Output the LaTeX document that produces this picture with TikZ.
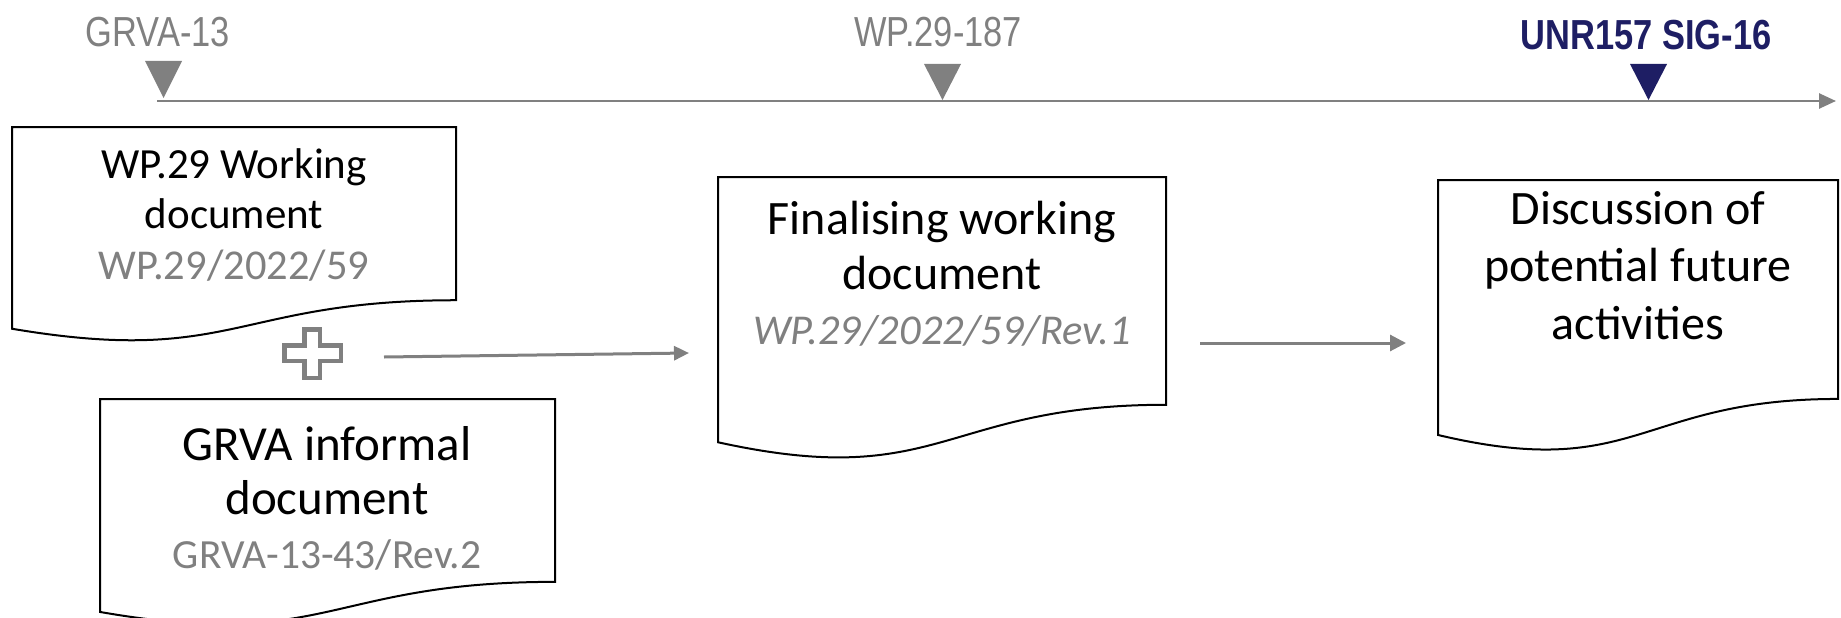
\documentclass[tikz,border=0pt]{standalone}
\usepackage{fontspec}
\setmainfont{Carlito}
\newfontfamily\narrowfont[FakeStretch=0.82]{Liberation Sans}
\usetikzlibrary{arrows.meta,calc}
\definecolor{tlgray}{RGB}{128,128,128}
\definecolor{navy}{RGB}{30,30,100}
\tikzset{
  docline/.style={draw=black, line width=2pt, line join=miter},
  grayline/.style={draw=tlgray, line width=2.6pt},
  toplabel/.style={anchor=base, inner sep=0pt, text=tlgray, font=\narrowfont\fontsize{42}{48}\selectfont},
  boxtext/.style={anchor=base, inner sep=0pt, align=center},
  marker/.style={fill=tlgray},
}
\newcommand\docshape[5]{%
  \node[rectangle, inner sep=0pt, outer sep=0pt, minimum width=#4pt, minimum height=#5pt, anchor=north west] (#1) at (#2,#3) {};
  \draw[docline] (#1.north west) -- (#1.north east)
    -- ($(#1.north east)!0.802!(#1.south east)$)
    .. controls ($(#1.north)!0.802!(#1.south)$) and ($(#1.north)!1.1075!(#1.south)$) ..
    ($(#1.north west)!0.934!(#1.south west)$) -- cycle;
}
\newcommand\graysub[2]{\textcolor{tlgray}{\fontsize{#1}{#1}\selectfont #2}}
\begin{document}
\begin{tikzpicture}[x=1pt,y=-1pt]
\useasboundingbox (0,0) rectangle (1841,618);

% timeline
\coordinate (tl0) at (157,101);
\coordinate (tl1) at (1836,101);
\draw[grayline, -{Triangle[length=17pt,width=15pt]}] (tl0) -- (tl1);

% milestone labels
\node[toplabel] (m1) at (158,47) {GRVA-13};
\node[toplabel] (m2) at (938,47) {WP.29-187};
\node[toplabel, text=navy, font=\narrowfont\bfseries\fontsize{42}{48}\selectfont] (m3) at (1646,50) {UNR157 SIG-16};

% markers
\fill[marker] (145,61) -- (182,61) -- (163.5,98) -- cycle;
\fill[marker] (924,64) -- (961,64) -- (942.5,100) -- cycle;
\fill[navy] (1630,64) -- (1667,64) -- (1648.5,100) -- cycle;

% document shapes
\docshape{b1}{12}{127}{444}{216}
\docshape{b2}{718}{177}{448}{284}
\docshape{b3}{1438}{180}{400}{273}
\docshape{b4}{100}{399}{455}{228}

% texts
\node[boxtext] (t1) at (234,178) {\fontsize{43}{50.5}\selectfont\begin{tabular}[t]{@{}c@{}}WP.29 Working\\document\\\graysub{42.5}{WP.29/2022/59}\end{tabular}};
\node[boxtext] (t2) at (942,234) {\fontsize{48}{55}\selectfont\begin{tabular}[t]{@{}c@{}}Finalising working\\document\\\graysub{42.5}{\itshape WP.29/2022/59/Rev.1}\end{tabular}};
\node[boxtext] (t3) at (1638,224) {\fontsize{48}{57.5}\selectfont\begin{tabular}[t]{@{}c@{}}Discussion of\\potential future\\activities\end{tabular}};
\node[boxtext] (t4) at (327,460) {\fontsize{49}{54}\selectfont\begin{tabular}[t]{@{}c@{}}GRVA informal\\document\\\graysub{41.5}{GRVA-13-43/Rev.2}\end{tabular}};

% plus sign
\draw[draw=tlgray, line width=4.5pt, line join=miter] (304.25,329.25) -- (319.75,329.25) -- (319.75,345.25) -- (340.75,345.25) -- (340.75,360.75) -- (319.75,360.75) -- (319.75,377.75) -- (304.25,377.75) -- (304.25,360.75) -- (284.25,360.75) -- (284.25,345.25) -- (304.25,345.25) -- cycle;

% connectors
\coordinate (a1s) at (384,357);
\coordinate (a1e) at (689,353);
\draw[grayline, line width=3pt, -{Triangle[length=15pt,width=14pt]}] (a1s) -- (a1e);
\coordinate (a2s) at (1200,343);
\coordinate (a2e) at (1406,343);
\draw[grayline, line width=3pt, -{Triangle[length=16pt,width=16pt]}] (a2s) -- (a2e);
\end{tikzpicture}
\end{document}
